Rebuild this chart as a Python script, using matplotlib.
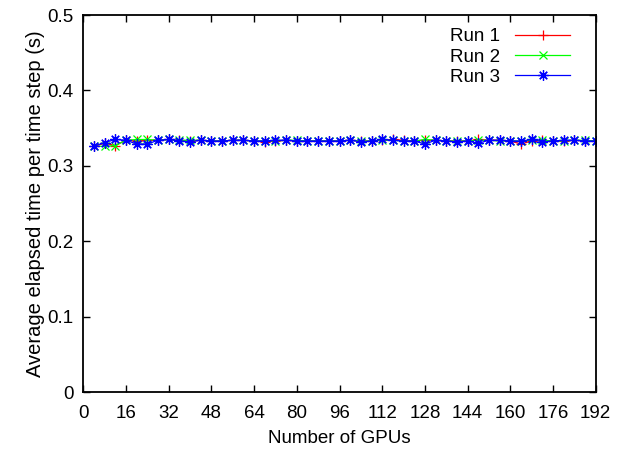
import numpy as np
import matplotlib
matplotlib.use("Agg")
import matplotlib.pyplot as plt

plt.rcParams['font.family'] = ['Liberation Sans', 'DejaVu Sans']

# number of GPUs
gpus = np.arange(4, 193, 4)

# average elapsed time per time step (s)
run1 = [0.326, 0.330, 0.327, 0.334, 0.333, 0.334, 0.334, 0.335, 0.334, 0.333,
        0.334, 0.333, 0.333, 0.334, 0.334, 0.333, 0.332, 0.333, 0.334, 0.333,
        0.333, 0.333, 0.333, 0.333, 0.334, 0.333, 0.333, 0.334, 0.335, 0.334,
        0.333, 0.334, 0.334, 0.333, 0.333, 0.333, 0.335, 0.334, 0.334, 0.333,
        0.329, 0.333, 0.334, 0.333, 0.333, 0.334, 0.333, 0.333]
run2 = [0.326, 0.326, 0.327, 0.334, 0.335, 0.335, 0.334, 0.335, 0.334, 0.334,
        0.334, 0.333, 0.333, 0.334, 0.334, 0.333, 0.333, 0.333, 0.334, 0.334,
        0.333, 0.333, 0.333, 0.333, 0.334, 0.333, 0.333, 0.334, 0.334, 0.333,
        0.333, 0.335, 0.334, 0.333, 0.333, 0.333, 0.334, 0.334, 0.333, 0.333,
        0.333, 0.334, 0.334, 0.333, 0.333, 0.334, 0.334, 0.333]
run3 = [0.326, 0.331, 0.335, 0.334, 0.329, 0.329, 0.334, 0.335, 0.333, 0.332,
        0.334, 0.333, 0.333, 0.334, 0.334, 0.333, 0.333, 0.334, 0.334, 0.333,
        0.333, 0.333, 0.333, 0.333, 0.334, 0.332, 0.333, 0.335, 0.334, 0.333,
        0.333, 0.329, 0.334, 0.333, 0.332, 0.333, 0.330, 0.334, 0.334, 0.333,
        0.333, 0.335, 0.332, 0.333, 0.334, 0.334, 0.333, 0.333]

xticks = np.arange(0, 193, 16)
yticks = [0, 0.1, 0.2, 0.3, 0.4, 0.5]

fig = plt.figure(figsize=(6.17, 4.55), dpi=100)
ax = fig.add_axes([0.135, 0.138, 0.8305, 0.829])

ax.plot(gpus, run1, color='#ff0000', lw=0.9, marker='+', ms=7, mew=0.9, label='Run 1')
ax.plot(gpus, run2, color='#00ff00', lw=0.9, marker='x', ms=5.5, mew=0.9, label='Run 2')
ax.plot(gpus, run3, color='#0000ff', lw=0.9, marker=(8, 2, 0), ms=7.5, mew=0.9, label='Run 3')

ax.set_xlim(0, 192)
ax.set_ylim(0, 0.5)
ax.set_xticks(xticks)
ax.set_yticks(yticks)
ax.set_yticklabels(['0', '0.1', '0.2', '0.3', '0.4', '0.5'])
ax.tick_params(direction='in', top=True, right=True, length=5, width=1,
               labelsize=13.5)
ax.tick_params(axis='x', pad=9)
ax.tick_params(axis='y', pad=7)
for s in ax.spines.values():
    s.set_linewidth(1.3)

ax.set_xlabel('Number of GPUs', fontsize=13.5, labelpad=6)
ax.set_ylabel('Average elapsed time per time step (s)', fontsize=14.5, labelpad=2)

ax.legend(loc='upper right', frameon=False, markerfirst=False, fontsize=13.5,
          handlelength=2.9, handletextpad=0.8, labelspacing=0.17,
          borderaxespad=0.3, bbox_to_anchor=(0.975, 1.0))

fig.savefig('out.png', dpi=100)
